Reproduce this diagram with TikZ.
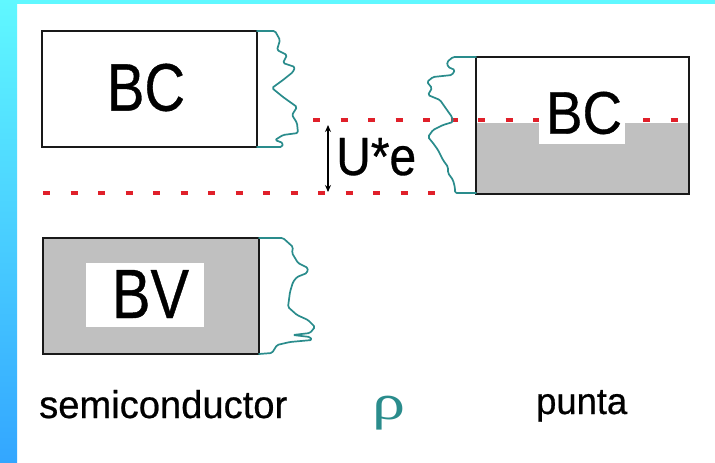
\documentclass[tikz,border=0pt]{standalone}
\usepackage{fontspec}
\setmainfont{Liberation Sans}
\newfontfamily\lblfont{Liberation Sans}[FakeBold=0.6]
\newfontfamily\rhofont{Liberation Serif}
\usepackage{graphicx}
\usetikzlibrary{arrows.meta}
\definecolor{cyanband}{HTML}{60F8FF}
\definecolor{blueband}{HTML}{33A6FF}
\definecolor{tealline}{HTML}{2A8C8C}
\definecolor{bandgray}{HTML}{C0C0C0}
\definecolor{reddash}{HTML}{E0202A}
\tikzset{
  bandbox/.style={draw=black!90, line width=2pt},
  surface/.style={draw=tealline, line width=1.7pt, line join=round, line cap=round, rounded corners=1.5pt},
  level/.style={draw=reddash, line width=4.5pt, dash pattern=on 7pt off 20.5pt},
  lbl/.style={inner sep=0pt, text=black, font=\lblfont},
  patch/.style={fill=white},
  gap/.style={<->, >={Stealth[length=7pt,width=6pt]}, line width=1.8pt, draw=black}
}
\begin{document}
\begin{tikzpicture}[x=1pt,y=-1pt]
\useasboundingbox (0,0) rectangle (715,463);
\fill[white] (0,0) rectangle (715,463);
\fill[cyanband] (0,0) rectangle (715,4);
\shade[top color=cyanband, bottom color=blueband] (0,0) rectangle (17,463);

% semiconductor conduction band
\draw[bandbox] (42,31) rectangle (257,147);
\node[lbl] (bcS) at (146,87.5) {\resizebox{78pt}{47pt}{BC}};
\draw[surface] (257,31) -- (275,31) -- (280,40) -- (277,50) -- (287,55) -- (283,63) -- (295,67) -- (293,72) -- (283,80) -- (272,88) -- (283,97) -- (297,107) -- (292,115) -- (297,123) -- (298,133) -- (283,135) -- (275,140) -- (283,143) -- (282,147) -- (257,147);

% semiconductor valence band
\fill[bandgray] (43,238) rectangle (259,354);
\fill[patch] (86,263) rectangle (204,327);
\draw[bandbox] (43,238) rectangle (259,354);
\node[lbl] (bv) at (150.5,294) {\resizebox{77pt}{48pt}{BV}};
\draw[surface] (259,238) -- (283,238) -- (293,247) -- (292,253) -- (298,263) -- (308,268) -- (307,273) -- (297,277) -- (293,282) -- (290,292) -- (288,307) -- (297,315) -- (308,320) -- (315,327) -- (310,333) -- (293,335) -- (310,337) -- (312,340) -- (290,342) -- (277,345) -- (272,353) -- (259,354);

% tip band
\fill[bandgray] (476,123) rectangle (689,194);
\draw[level] (313,120) -- (689,120);
\draw[level] (43,193) -- (445,193);
\fill[patch] (539,112) rectangle (625,144);
\node[lbl] (bcT) at (584,113) {\resizebox{76pt}{42pt}{BC}};
\draw[bandbox] (476,57) rectangle (689,194);
\draw[surface] (476,57) -- (453,57) -- (447,62) -- (448,67) -- (455,70) -- (452,75) -- (433,77) -- (427,82) -- (432,88) -- (428,95) -- (440,100) -- (447,110) -- (452,117) -- (453,122) -- (443,125) -- (433,130) -- (428,137) -- (433,143) -- (438,150) -- (443,160) -- (448,167) -- (448,173) -- (453,180) -- (455,188) -- (455,193) -- (476,193);

% bias gap
\coordinate (gapTop) at (328,125);
\coordinate (gapBot) at (328,192);
\draw[gap] (gapTop) -- (gapBot);
\node[lbl, anchor=base west] (ue) at (336,175) {\resizebox{80pt}{37pt}{U*e}};

% labels
\node[lbl, anchor=base west] (semi) at (39,418) {\resizebox{248pt}{28pt}{semiconductor}};
\node[lbl, anchor=base west] (punta) at (536,414) {\resizebox{91pt}{24pt}{punta}};
\node[lbl, text=tealline, anchor=north west] (rho) at (372,396) {\resizebox*{33pt}{34pt}{\rhofont ρ}};
\end{tikzpicture}
\end{document}
